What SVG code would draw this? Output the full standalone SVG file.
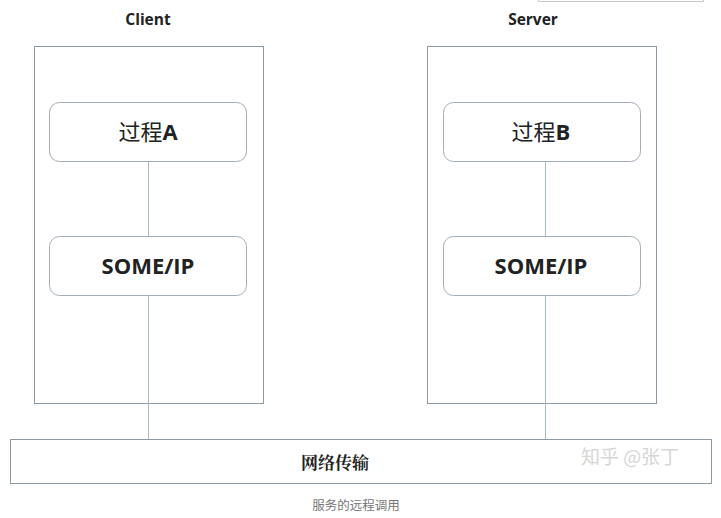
<svg xmlns="http://www.w3.org/2000/svg" width="721" height="518" viewBox="0 0 721 518">
<style>
.frame{fill:#fff;stroke:#8c9aa6;stroke-width:1}
.node{fill:#fff;stroke:#a3adb7;stroke-width:1}
.conn{stroke:#a9bac6;stroke-width:1;fill:none}
.hdr{font-family:"Open Sans","Liberation Sans",sans-serif;font-weight:bold;font-size:15.5px;fill:#222;text-anchor:middle}
.lbl{font-family:"Open Sans","Liberation Sans","Noto Sans CJK SC",sans-serif;font-size:22px;fill:#222;text-anchor:middle}
.b{font-weight:bold}
</style>
<rect width="721" height="518" fill="#fff"/>
<path d="M538.5 0 V1.5 H703.5 V0" fill="none" stroke="#c8c8c8"/>
<text class="hdr" x="148" y="25">Client</text>
<text class="hdr" x="533" y="25">Server</text>
<g id="client">
<rect class="frame" x="34.5" y="46.5" width="229" height="357"/>
</g>
<g id="server">
<rect class="frame" x="427.5" y="46.5" width="229" height="357"/>
</g>
<g id="connectors">
<line class="conn" x1="148.5" y1="162" x2="148.5" y2="236"/>
<line class="conn" x1="148.5" y1="296" x2="148.5" y2="440"/>
<line class="conn" x1="545.5" y1="162" x2="545.5" y2="236"/>
<line class="conn" x1="545.5" y1="296" x2="545.5" y2="440"/>
</g>
<g id="procA">
<rect class="node" x="49.5" y="102.5" width="197" height="59" rx="10"/>
<text class="lbl" x="148" y="140"><tspan font-family="Noto Sans CJK SC,sans-serif">过程</tspan><tspan class="b">A</tspan></text>
</g>
<g id="someipA">
<rect class="node" x="49.5" y="236.5" width="197" height="59" rx="10"/>
<text class="lbl b" x="148" y="274" font-size="20">SOME/IP</text>
</g>
<g id="procB">
<rect class="node" x="443.5" y="102.5" width="197" height="59" rx="10"/>
<text class="lbl" x="541" y="140"><tspan font-family="Noto Sans CJK SC,sans-serif">过程</tspan><tspan class="b">B</tspan></text>
</g>
<g id="someipB">
<rect class="node" x="443.5" y="236.5" width="197" height="59" rx="10"/>
<text class="lbl b" x="541" y="274" font-size="20">SOME/IP</text>
</g>
<g id="network">
<rect class="frame" x="10.5" y="439.5" width="701" height="44"/>
<text x="335" y="469" font-family="Noto Serif CJK SC,Noto Sans CJK SC,serif" font-weight="bold" font-size="17" fill="#222" text-anchor="middle">网络传输</text>
</g>
<text x="630" y="464" font-family="Noto Sans CJK SC,sans-serif" font-size="19" fill="#d6d6d6" text-anchor="middle">知乎 @张丁</text>
<text x="356" y="510" font-family="Noto Sans CJK SC,sans-serif" font-size="12.5" fill="#777" text-anchor="middle">服务的远程调用</text>
</svg>
